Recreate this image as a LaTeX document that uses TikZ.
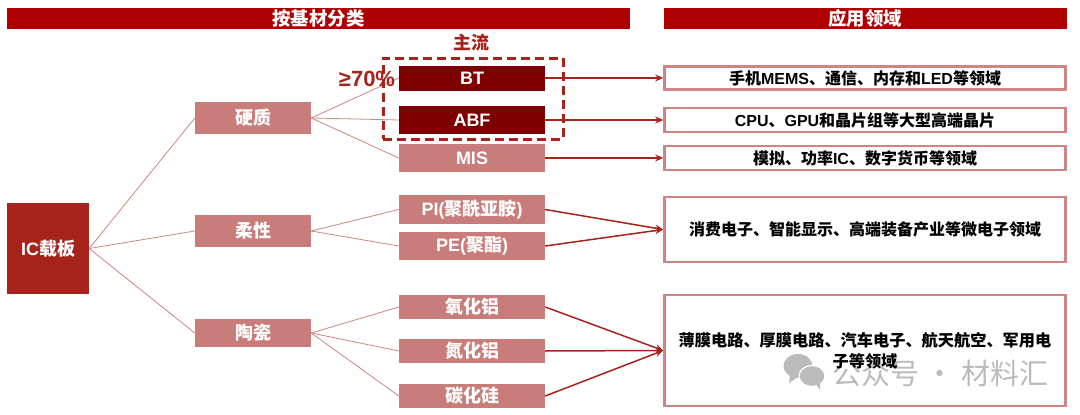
\documentclass[tikz,border=0pt]{standalone}
\usepackage{fontspec}
\usetikzlibrary{arrows.meta}
\setmainfont{Liberation Sans}
\newfontfamily\cjk{Noto Sans CJK SC}
\newcommand{\zh}[1]{{\cjk #1}}
\definecolor{headred}{HTML}{AE0000}
\definecolor{darkred}{HTML}{7F0000}
\definecolor{rootred}{HTML}{A5231B}
\definecolor{pinkred}{HTML}{C97D7B}
\definecolor{edgepink}{HTML}{D08483}
\definecolor{markgray}{HTML}{BBBBBB}

\begin{document}
\begin{tikzpicture}[x=1pt, y=-1pt,
  every node/.style={inner sep=0pt, font=\fontsize{18}{20}\selectfont\bfseries},
  headbox/.style={fill=headred, text=white, minimum height=21.5pt, font=\fontsize{18.4}{20}\selectfont\bfseries},
  pinkbox/.style={fill=pinkred, text=white, minimum width=146pt},
  classbox/.style={fill=pinkred, text=white, minimum width=116pt},
  mainbox/.style={fill=darkred, text=white, minimum width=146pt},
  appbox/.style={draw=edgepink, line width=2.6pt, fill=white, minimum width=401pt,
    font=\fontsize{16}{20}\selectfont\bfseries},
  thinline/.style={draw=edgepink, line width=0.8pt},
  appline/.style={draw=rootred, line width=1.5pt, -{Stealth[length=8pt, width=7pt]}}]
\useasboundingbox (0,0) rectangle (1080,415);

\node[headbox, minimum width=623pt] (headL) at (318.5,18.5) {\zh{按基材分类}};
\node[headbox, minimum width=403pt] (headR) at (865,18.5) {\zh{应用领域}};

\node[fill=rootred, text=white, minimum width=82pt, minimum height=91pt] (root) at (48,248.5) {IC\zh{载板}};

\node[classbox, minimum height=32pt] (hard) at (253,118) {\zh{硬质}};
\node[classbox, minimum height=32pt] (soft) [below of=hard, node distance=113pt] {\zh{柔性}};
\node[classbox, minimum height=28pt] (ceramic) [below of=soft, node distance=102pt] {\zh{陶瓷}};

\node[mainbox, minimum height=25pt] (BT) at (472,78) {BT};
\node[mainbox, minimum height=28pt] (ABF) [below of=BT, node distance=42pt] {ABF};
\node[pinkbox, minimum height=28pt] (MIS) [below of=ABF, node distance=38pt] {MIS};
\node[pinkbox, minimum height=29pt] (PI) [below of=MIS, node distance=51.5pt] {PI(\zh{聚酰亚胺})};
\node[pinkbox, minimum height=28pt] (PE) [below of=PI, node distance=36.5pt] {PE(\zh{聚酯})};
\node[pinkbox, minimum height=24pt] (AlO) [below of=PE, node distance=61pt] {\zh{氧化铝}};
\node[pinkbox, minimum height=24pt] (AlN) [below of=AlO, node distance=44pt] {\zh{氮化铝}};
\node[pinkbox, minimum height=24pt] (SiC) [below of=AlN, node distance=45pt] {\zh{碳化硅}};

\node[appbox, minimum height=23pt] (app1) [right of=BT, node distance=393pt] {\zh{手机}MEMS\zh{、通信、内存和}LED\zh{等领域}};
\node[appbox, minimum height=24pt] (app2) [right of=ABF, node distance=393pt] {CPU\zh{、}GPU\zh{和晶片组等大型高端晶片}};
\node[appbox, minimum height=24pt] (app3) [right of=MIS, node distance=393pt] {\zh{模拟、功率}IC\zh{、数字货币等领域}};
\node[appbox, minimum height=65pt] (app4) at (865,229.5) {\zh{消费电子、智能显示、高端装备产业等微电子领域}};
\node[appbox, minimum height=111pt] (app5) at (865,350.5) {};

% classes
\draw[thinline] (root.east) -- (hard.west);
\draw[thinline] (root.east) -- (soft.west);
\draw[thinline] (root.east) -- (ceramic.west);
\foreach \leaf in {BT, ABF, MIS} \draw[thinline] (hard.east) -- (\leaf.west);
\foreach \leaf in {PI, PE} \draw[thinline] (soft.east) -- (\leaf.west);
\foreach \leaf in {AlO, AlN, SiC} \draw[thinline] (ceramic.east) -- (\leaf.west);

% applications
\draw[appline] (BT.east) -- (app1.west);
\draw[appline] (ABF.east) -- (app2.west);
\draw[appline] (MIS.east) -- (app3.west);
\foreach \leaf in {PI, PE} \draw[appline] (\leaf.east) -- (app4.west);
\foreach \leaf in {AlO, AlN, SiC} \draw[appline] (\leaf.east) -- (app5.west);

\node[draw=rootred, line width=3pt, dash pattern=on 9pt off 5pt, minimum width=180pt, minimum height=81pt] (mainstream) at (473,98.5) {};
\node[text=rootred, font=\fontsize{18}{20}\selectfont\bfseries] (mainlabel) at (471,43) {\zh{主流}};
\node[text=rootred, font=\fontsize{22}{24}\selectfont\bfseries] (share) at (367,79) {≥70\%};

% watermark
\fill[markgray] (798,366) circle [x radius=14.5pt, y radius=12pt];
\fill[markgray] (790,375) -- (789,383) -- (798,377) -- cycle;
\fill[markgray, draw=white, line width=1.2pt] (812,376) circle [x radius=13pt, y radius=10.5pt];
\fill[markgray] (816,384) -- (820,390) -- (820,382) -- cycle;
\node[text=markgray, font=\fontsize{29}{32}\selectfont\cjk] (mark) at (940,373) {公众号 · 材料汇};
\node[align=center, font=\fontsize{16.2}{21.5}\selectfont\bfseries\cjk] (app5text) at (865,351) {薄膜电路、厚膜电路、汽车电子、航天航空、军用电\\子等领域};
\end{tikzpicture}
\end{document}
